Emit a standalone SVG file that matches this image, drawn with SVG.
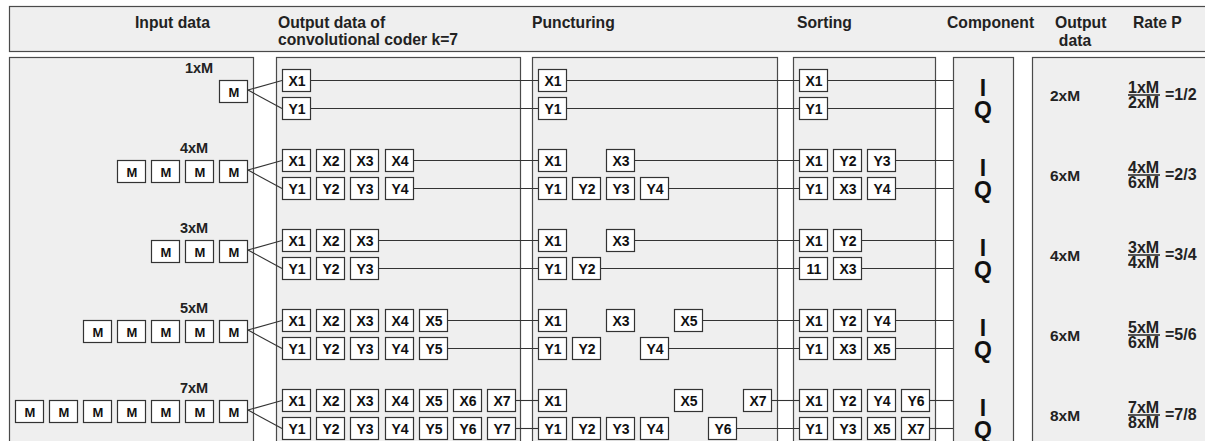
<svg xmlns="http://www.w3.org/2000/svg" width="1205" height="441" viewBox="0 0 1205 441">
<style>
.pn{fill:#efefef;stroke:#4a4a4a;stroke-width:1.2}
.b rect{fill:#fff;stroke:#333;stroke-width:1.2}
.b text{font-family:"Liberation Sans",Arial,sans-serif;font-weight:bold;font-size:14px;fill:#111;text-anchor:middle}
.m text{font-size:13px}
.h{font-family:"Liberation Sans",Arial,sans-serif;font-weight:bold;font-size:15.7px;fill:#222}
.lb{font-family:"Liberation Sans",Arial,sans-serif;font-weight:bold;font-size:14.5px;fill:#222;text-anchor:middle}
.iq{font-family:"Liberation Sans",Arial,sans-serif;font-weight:bold;font-size:23px;fill:#111;text-anchor:middle}
.od{font-family:"Liberation Sans",Arial,sans-serif;font-weight:bold;font-size:15.5px;fill:#222}
.fr{font-family:"Liberation Sans",Arial,sans-serif;font-weight:bold;font-size:16px;fill:#222}
.c line{stroke:#333;stroke-width:1.1}
.ul{stroke:#222;stroke-width:1.5}
</style>
<rect x="0" y="0" width="1205" height="441" fill="#fff"/>
<g id="header">
<rect class="pn" x="9.5" y="6.5" width="1210" height="45"/>
<text class="h" x="135" y="28">Input data</text>
<text class="h" x="278" y="28">Output data of</text>
<text class="h" x="278" y="45">convolutional coder k=7</text>
<text class="h" x="532" y="28">Puncturing</text>
<text class="h" x="797" y="28">Sorting</text>
<text class="h" x="947" y="28">Component</text>
<text class="h" x="1055" y="28">Output</text>
<text class="h" x="1075" y="46" text-anchor="middle">data</text>
<text class="h" x="1133" y="28">Rate P</text>
</g>
<g id="panels">
<rect id="p-input" class="pn" x="9.5" y="57.5" width="244" height="400"/>
<rect id="p-conv" class="pn" x="276.5" y="57.5" width="244" height="400"/>
<rect id="p-punct" class="pn" x="532.5" y="57.5" width="245" height="400"/>
<rect id="p-sort" class="pn" x="793.5" y="57.5" width="142" height="400"/>
<rect id="p-comp" class="pn" x="953.5" y="57.5" width="60" height="400"/>
<rect id="p-out" class="pn" x="1032.5" y="57.5" width="200" height="400"/>
</g>
<g id="connectors" class="c">
<line x1="248" y1="90" x2="282" y2="80.5"/><line x1="248" y1="90" x2="282" y2="108.5"/>
<line x1="311" y1="80.5" x2="538" y2="80.5"/><line x1="567" y1="80.5" x2="799" y2="80.5"/><line x1="828" y1="80.5" x2="953" y2="80.5"/>
<line x1="311" y1="108.5" x2="538" y2="108.5"/><line x1="567" y1="108.5" x2="799" y2="108.5"/><line x1="828" y1="108.5" x2="953" y2="108.5"/>
<line x1="248" y1="170" x2="282" y2="160.5"/><line x1="248" y1="170" x2="282" y2="188.5"/>
<line x1="414" y1="160.5" x2="538" y2="160.5"/><line x1="635" y1="160.5" x2="799" y2="160.5"/><line x1="896" y1="160.5" x2="953" y2="160.5"/>
<line x1="414" y1="188.5" x2="538" y2="188.5"/><line x1="669" y1="188.5" x2="799" y2="188.5"/><line x1="896" y1="188.5" x2="953" y2="188.5"/>
<line x1="248" y1="250" x2="282" y2="240.5"/><line x1="248" y1="250" x2="282" y2="268.5"/>
<line x1="379" y1="240.5" x2="538" y2="240.5"/><line x1="635" y1="240.5" x2="799" y2="240.5"/><line x1="862" y1="240.5" x2="953" y2="240.5"/>
<line x1="379" y1="268.5" x2="538" y2="268.5"/><line x1="601" y1="268.5" x2="799" y2="268.5"/><line x1="862" y1="268.5" x2="953" y2="268.5"/>
<line x1="248" y1="330" x2="282" y2="320.5"/><line x1="248" y1="330" x2="282" y2="348.5"/>
<line x1="448" y1="320.5" x2="538" y2="320.5"/><line x1="703" y1="320.5" x2="799" y2="320.5"/><line x1="896" y1="320.5" x2="953" y2="320.5"/>
<line x1="448" y1="348.5" x2="538" y2="348.5"/><line x1="669" y1="348.5" x2="799" y2="348.5"/><line x1="896" y1="348.5" x2="953" y2="348.5"/>
<line x1="248" y1="410" x2="282" y2="400.5"/><line x1="248" y1="410" x2="282" y2="428.5"/>
<line x1="516" y1="400.5" x2="538" y2="400.5"/><line x1="772" y1="400.5" x2="799" y2="400.5"/><line x1="930" y1="400.5" x2="953" y2="400.5"/>
<line x1="516" y1="428.5" x2="538" y2="428.5"/><line x1="737" y1="428.5" x2="799" y2="428.5"/><line x1="930" y1="428.5" x2="953" y2="428.5"/>
</g>
<g id="row1">
<text class="lb" x="199" y="73">1xM</text>
<g id="r1-m1" class="b m"><rect x="219.5" y="80.5" width="28" height="22"/><text x="234" y="97">M</text></g>
<g id="r1-cx1" class="b"><rect x="282.5" y="69.5" width="28" height="22"/><text x="297" y="86">X1</text></g>
<g id="r1-cy1" class="b"><rect x="282.5" y="97.5" width="28" height="22"/><text x="297" y="114">Y1</text></g>
<g id="r1-px1" class="b"><rect x="538.5" y="69.5" width="28" height="22"/><text x="553" y="86">X1</text></g>
<g id="r1-py1" class="b"><rect x="538.5" y="97.5" width="28" height="22"/><text x="553" y="114">Y1</text></g>
<g id="r1-sx1" class="b"><rect x="799.5" y="69.5" width="28" height="22"/><text x="814" y="86">X1</text></g>
<g id="r1-sy1" class="b"><rect x="799.5" y="97.5" width="28" height="22"/><text x="814" y="114">Y1</text></g>
<text class="iq" x="983" y="96">I</text><text class="iq" x="983" y="118">Q</text>
<text class="od" x="1050" y="101">2xM</text>
<text class="fr" x="1128" y="93">1xM</text><line class="ul" x1="1128" y1="95" x2="1160" y2="95"/><text class="fr" x="1128" y="108">2xM</text><text class="fr" x="1165" y="100">=1/2</text>
</g>
<g id="row2">
<text class="lb" x="194" y="153">4xM</text>
<g id="r2-m4" class="b m"><rect x="117.5" y="160.5" width="28" height="22"/><text x="132" y="177">M</text></g>
<g id="r2-m3" class="b m"><rect x="151.5" y="160.5" width="28" height="22"/><text x="166" y="177">M</text></g>
<g id="r2-m2" class="b m"><rect x="185.5" y="160.5" width="28" height="22"/><text x="200" y="177">M</text></g>
<g id="r2-m1" class="b m"><rect x="219.5" y="160.5" width="28" height="22"/><text x="234" y="177">M</text></g>
<g id="r2-cx1" class="b"><rect x="282.5" y="149.5" width="28" height="22"/><text x="297" y="166">X1</text></g>
<g id="r2-cx2" class="b"><rect x="316.5" y="149.5" width="28" height="22"/><text x="331" y="166">X2</text></g>
<g id="r2-cx3" class="b"><rect x="350.5" y="149.5" width="28" height="22"/><text x="365" y="166">X3</text></g>
<g id="r2-cx4" class="b"><rect x="385.5" y="149.5" width="28" height="22"/><text x="400" y="166">X4</text></g>
<g id="r2-cy1" class="b"><rect x="282.5" y="177.5" width="28" height="22"/><text x="297" y="194">Y1</text></g>
<g id="r2-cy2" class="b"><rect x="316.5" y="177.5" width="28" height="22"/><text x="331" y="194">Y2</text></g>
<g id="r2-cy3" class="b"><rect x="350.5" y="177.5" width="28" height="22"/><text x="365" y="194">Y3</text></g>
<g id="r2-cy4" class="b"><rect x="385.5" y="177.5" width="28" height="22"/><text x="400" y="194">Y4</text></g>
<g id="r2-px1" class="b"><rect x="538.5" y="149.5" width="28" height="22"/><text x="553" y="166">X1</text></g>
<g id="r2-px3" class="b"><rect x="606.5" y="149.5" width="28" height="22"/><text x="621" y="166">X3</text></g>
<g id="r2-py1" class="b"><rect x="538.5" y="177.5" width="28" height="22"/><text x="553" y="194">Y1</text></g>
<g id="r2-py2" class="b"><rect x="572.5" y="177.5" width="28" height="22"/><text x="587" y="194">Y2</text></g>
<g id="r2-py3" class="b"><rect x="606.5" y="177.5" width="28" height="22"/><text x="621" y="194">Y3</text></g>
<g id="r2-py4" class="b"><rect x="640.5" y="177.5" width="28" height="22"/><text x="655" y="194">Y4</text></g>
<g id="r2-s1" class="b"><rect x="799.5" y="149.5" width="28" height="22"/><text x="814" y="166">X1</text></g>
<g id="r2-s2" class="b"><rect x="833.5" y="149.5" width="28" height="22"/><text x="848" y="166">Y2</text></g>
<g id="r2-s3" class="b"><rect x="867.5" y="149.5" width="28" height="22"/><text x="882" y="166">Y3</text></g>
<g id="r2-s4" class="b"><rect x="799.5" y="177.5" width="28" height="22"/><text x="814" y="194">Y1</text></g>
<g id="r2-s5" class="b"><rect x="833.5" y="177.5" width="28" height="22"/><text x="848" y="194">X3</text></g>
<g id="r2-s6" class="b"><rect x="867.5" y="177.5" width="28" height="22"/><text x="882" y="194">Y4</text></g>
<text class="iq" x="983" y="176">I</text><text class="iq" x="983" y="198">Q</text>
<text class="od" x="1050" y="181">6xM</text>
<text class="fr" x="1128" y="173">4xM</text><line class="ul" x1="1128" y1="175" x2="1160" y2="175"/><text class="fr" x="1128" y="188">6xM</text><text class="fr" x="1165" y="180">=2/3</text>
</g>
<g id="row3">
<text class="lb" x="194" y="233">3xM</text>
<g id="r3-m3" class="b m"><rect x="151.5" y="240.5" width="28" height="22"/><text x="166" y="257">M</text></g>
<g id="r3-m2" class="b m"><rect x="185.5" y="240.5" width="28" height="22"/><text x="200" y="257">M</text></g>
<g id="r3-m1" class="b m"><rect x="219.5" y="240.5" width="28" height="22"/><text x="234" y="257">M</text></g>
<g id="r3-cx1" class="b"><rect x="282.5" y="229.5" width="28" height="22"/><text x="297" y="246">X1</text></g>
<g id="r3-cx2" class="b"><rect x="316.5" y="229.5" width="28" height="22"/><text x="331" y="246">X2</text></g>
<g id="r3-cx3" class="b"><rect x="350.5" y="229.5" width="28" height="22"/><text x="365" y="246">X3</text></g>
<g id="r3-cy1" class="b"><rect x="282.5" y="257.5" width="28" height="22"/><text x="297" y="274">Y1</text></g>
<g id="r3-cy2" class="b"><rect x="316.5" y="257.5" width="28" height="22"/><text x="331" y="274">Y2</text></g>
<g id="r3-cy3" class="b"><rect x="350.5" y="257.5" width="28" height="22"/><text x="365" y="274">Y3</text></g>
<g id="r3-px1" class="b"><rect x="538.5" y="229.5" width="28" height="22"/><text x="553" y="246">X1</text></g>
<g id="r3-px3" class="b"><rect x="606.5" y="229.5" width="28" height="22"/><text x="621" y="246">X3</text></g>
<g id="r3-py1" class="b"><rect x="538.5" y="257.5" width="28" height="22"/><text x="553" y="274">Y1</text></g>
<g id="r3-py2" class="b"><rect x="572.5" y="257.5" width="28" height="22"/><text x="587" y="274">Y2</text></g>
<g id="r3-s1" class="b"><rect x="799.5" y="229.5" width="28" height="22"/><text x="814" y="246">X1</text></g>
<g id="r3-s2" class="b"><rect x="833.5" y="229.5" width="28" height="22"/><text x="848" y="246">Y2</text></g>
<g id="r3-s3" class="b"><rect x="799.5" y="257.5" width="28" height="22"/><text x="814" y="274">11</text></g>
<g id="r3-s4" class="b"><rect x="833.5" y="257.5" width="28" height="22"/><text x="848" y="274">X3</text></g>
<text class="iq" x="983" y="256">I</text><text class="iq" x="983" y="278">Q</text>
<text class="od" x="1050" y="261">4xM</text>
<text class="fr" x="1128" y="253">3xM</text><line class="ul" x1="1128" y1="255" x2="1160" y2="255"/><text class="fr" x="1128" y="268">4xM</text><text class="fr" x="1165" y="260">=3/4</text>
</g>
<g id="row4">
<text class="lb" x="194" y="313">5xM</text>
<g id="r4-m5" class="b m"><rect x="83.5" y="320.5" width="28" height="22"/><text x="98" y="337">M</text></g>
<g id="r4-m4" class="b m"><rect x="117.5" y="320.5" width="28" height="22"/><text x="132" y="337">M</text></g>
<g id="r4-m3" class="b m"><rect x="151.5" y="320.5" width="28" height="22"/><text x="166" y="337">M</text></g>
<g id="r4-m2" class="b m"><rect x="185.5" y="320.5" width="28" height="22"/><text x="200" y="337">M</text></g>
<g id="r4-m1" class="b m"><rect x="219.5" y="320.5" width="28" height="22"/><text x="234" y="337">M</text></g>
<g id="r4-cx1" class="b"><rect x="282.5" y="309.5" width="28" height="22"/><text x="297" y="326">X1</text></g>
<g id="r4-cx2" class="b"><rect x="316.5" y="309.5" width="28" height="22"/><text x="331" y="326">X2</text></g>
<g id="r4-cx3" class="b"><rect x="350.5" y="309.5" width="28" height="22"/><text x="365" y="326">X3</text></g>
<g id="r4-cx4" class="b"><rect x="385.5" y="309.5" width="28" height="22"/><text x="400" y="326">X4</text></g>
<g id="r4-cx5" class="b"><rect x="419.5" y="309.5" width="28" height="22"/><text x="434" y="326">X5</text></g>
<g id="r4-cy1" class="b"><rect x="282.5" y="337.5" width="28" height="22"/><text x="297" y="354">Y1</text></g>
<g id="r4-cy2" class="b"><rect x="316.5" y="337.5" width="28" height="22"/><text x="331" y="354">Y2</text></g>
<g id="r4-cy3" class="b"><rect x="350.5" y="337.5" width="28" height="22"/><text x="365" y="354">Y3</text></g>
<g id="r4-cy4" class="b"><rect x="385.5" y="337.5" width="28" height="22"/><text x="400" y="354">Y4</text></g>
<g id="r4-cy5" class="b"><rect x="419.5" y="337.5" width="28" height="22"/><text x="434" y="354">Y5</text></g>
<g id="r4-px1" class="b"><rect x="538.5" y="309.5" width="28" height="22"/><text x="553" y="326">X1</text></g>
<g id="r4-px3" class="b"><rect x="606.5" y="309.5" width="28" height="22"/><text x="621" y="326">X3</text></g>
<g id="r4-px5" class="b"><rect x="674.5" y="309.5" width="28" height="22"/><text x="689" y="326">X5</text></g>
<g id="r4-py1" class="b"><rect x="538.5" y="337.5" width="28" height="22"/><text x="553" y="354">Y1</text></g>
<g id="r4-py2" class="b"><rect x="572.5" y="337.5" width="28" height="22"/><text x="587" y="354">Y2</text></g>
<g id="r4-py4" class="b"><rect x="640.5" y="337.5" width="28" height="22"/><text x="655" y="354">Y4</text></g>
<g id="r4-s1" class="b"><rect x="799.5" y="309.5" width="28" height="22"/><text x="814" y="326">X1</text></g>
<g id="r4-s2" class="b"><rect x="833.5" y="309.5" width="28" height="22"/><text x="848" y="326">Y2</text></g>
<g id="r4-s3" class="b"><rect x="867.5" y="309.5" width="28" height="22"/><text x="882" y="326">Y4</text></g>
<g id="r4-s4" class="b"><rect x="799.5" y="337.5" width="28" height="22"/><text x="814" y="354">Y1</text></g>
<g id="r4-s5" class="b"><rect x="833.5" y="337.5" width="28" height="22"/><text x="848" y="354">X3</text></g>
<g id="r4-s6" class="b"><rect x="867.5" y="337.5" width="28" height="22"/><text x="882" y="354">X5</text></g>
<text class="iq" x="983" y="336">I</text><text class="iq" x="983" y="358">Q</text>
<text class="od" x="1050" y="341">6xM</text>
<text class="fr" x="1128" y="333">5xM</text><line class="ul" x1="1128" y1="335" x2="1160" y2="335"/><text class="fr" x="1128" y="348">6xM</text><text class="fr" x="1165" y="340">=5/6</text>
</g>
<g id="row5">
<text class="lb" x="194" y="393">7xM</text>
<g id="r5-m7" class="b m"><rect x="15.5" y="400.5" width="28" height="22"/><text x="30" y="417">M</text></g>
<g id="r5-m6" class="b m"><rect x="49.5" y="400.5" width="28" height="22"/><text x="64" y="417">M</text></g>
<g id="r5-m5" class="b m"><rect x="83.5" y="400.5" width="28" height="22"/><text x="98" y="417">M</text></g>
<g id="r5-m4" class="b m"><rect x="117.5" y="400.5" width="28" height="22"/><text x="132" y="417">M</text></g>
<g id="r5-m3" class="b m"><rect x="151.5" y="400.5" width="28" height="22"/><text x="166" y="417">M</text></g>
<g id="r5-m2" class="b m"><rect x="185.5" y="400.5" width="28" height="22"/><text x="200" y="417">M</text></g>
<g id="r5-m1" class="b m"><rect x="219.5" y="400.5" width="28" height="22"/><text x="234" y="417">M</text></g>
<g id="r5-cx1" class="b"><rect x="282.5" y="389.5" width="28" height="22"/><text x="297" y="406">X1</text></g>
<g id="r5-cx2" class="b"><rect x="316.5" y="389.5" width="28" height="22"/><text x="331" y="406">X2</text></g>
<g id="r5-cx3" class="b"><rect x="350.5" y="389.5" width="28" height="22"/><text x="365" y="406">X3</text></g>
<g id="r5-cx4" class="b"><rect x="385.5" y="389.5" width="28" height="22"/><text x="400" y="406">X4</text></g>
<g id="r5-cx5" class="b"><rect x="419.5" y="389.5" width="28" height="22"/><text x="434" y="406">X5</text></g>
<g id="r5-cx6" class="b"><rect x="453.5" y="389.5" width="28" height="22"/><text x="468" y="406">X6</text></g>
<g id="r5-cx7" class="b"><rect x="487.5" y="389.5" width="28" height="22"/><text x="502" y="406">X7</text></g>
<g id="r5-cy1" class="b"><rect x="282.5" y="417.5" width="28" height="22"/><text x="297" y="434">Y1</text></g>
<g id="r5-cy2" class="b"><rect x="316.5" y="417.5" width="28" height="22"/><text x="331" y="434">Y2</text></g>
<g id="r5-cy3" class="b"><rect x="350.5" y="417.5" width="28" height="22"/><text x="365" y="434">Y3</text></g>
<g id="r5-cy4" class="b"><rect x="385.5" y="417.5" width="28" height="22"/><text x="400" y="434">Y4</text></g>
<g id="r5-cy5" class="b"><rect x="419.5" y="417.5" width="28" height="22"/><text x="434" y="434">Y5</text></g>
<g id="r5-cy6" class="b"><rect x="453.5" y="417.5" width="28" height="22"/><text x="468" y="434">Y6</text></g>
<g id="r5-cy7" class="b"><rect x="487.5" y="417.5" width="28" height="22"/><text x="502" y="434">Y7</text></g>
<g id="r5-px1" class="b"><rect x="538.5" y="389.5" width="28" height="22"/><text x="553" y="406">X1</text></g>
<g id="r5-px5" class="b"><rect x="674.5" y="389.5" width="28" height="22"/><text x="689" y="406">X5</text></g>
<g id="r5-px7" class="b"><rect x="743.5" y="389.5" width="28" height="22"/><text x="758" y="406">X7</text></g>
<g id="r5-py1" class="b"><rect x="538.5" y="417.5" width="28" height="22"/><text x="553" y="434">Y1</text></g>
<g id="r5-py2" class="b"><rect x="572.5" y="417.5" width="28" height="22"/><text x="587" y="434">Y2</text></g>
<g id="r5-py3" class="b"><rect x="606.5" y="417.5" width="28" height="22"/><text x="621" y="434">Y3</text></g>
<g id="r5-py4" class="b"><rect x="640.5" y="417.5" width="28" height="22"/><text x="655" y="434">Y4</text></g>
<g id="r5-py6" class="b"><rect x="708.5" y="417.5" width="28" height="22"/><text x="723" y="434">Y6</text></g>
<g id="r5-s1" class="b"><rect x="799.5" y="389.5" width="28" height="22"/><text x="814" y="406">X1</text></g>
<g id="r5-s2" class="b"><rect x="833.5" y="389.5" width="28" height="22"/><text x="848" y="406">Y2</text></g>
<g id="r5-s3" class="b"><rect x="867.5" y="389.5" width="28" height="22"/><text x="882" y="406">Y4</text></g>
<g id="r5-s4" class="b"><rect x="901.5" y="389.5" width="28" height="22"/><text x="916" y="406">Y6</text></g>
<g id="r5-s5" class="b"><rect x="799.5" y="417.5" width="28" height="22"/><text x="814" y="434">Y1</text></g>
<g id="r5-s6" class="b"><rect x="833.5" y="417.5" width="28" height="22"/><text x="848" y="434">Y3</text></g>
<g id="r5-s7" class="b"><rect x="867.5" y="417.5" width="28" height="22"/><text x="882" y="434">X5</text></g>
<g id="r5-s8" class="b"><rect x="901.5" y="417.5" width="28" height="22"/><text x="916" y="434">X7</text></g>
<text class="iq" x="983" y="416">I</text><text class="iq" x="983" y="438">Q</text>
<text class="od" x="1050" y="421">8xM</text>
<text class="fr" x="1128" y="413">7xM</text><line class="ul" x1="1128" y1="415" x2="1160" y2="415"/><text class="fr" x="1128" y="428">8xM</text><text class="fr" x="1165" y="420">=7/8</text>
</g>
</svg>
